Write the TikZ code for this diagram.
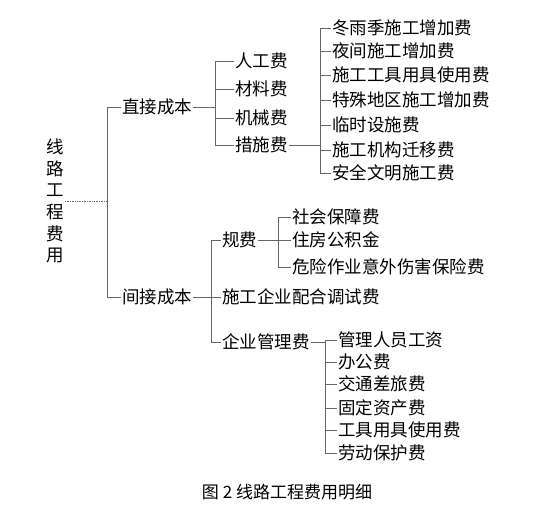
\documentclass[tikz,border=0pt]{standalone}
\usepackage{fontspec}
\setmainfont{Noto Sans CJK SC}
\usetikzlibrary{positioning}

\begin{document}
\begin{tikzpicture}[x=1pt, y=-1pt,
    item/.style={anchor=west, inner sep=1pt, font=\fontsize{17.5}{19}\selectfont},
    link/.style={draw=black!60, line width=0.7pt}]
        \useasboundingbox (0,0) rectangle (544,510);

        \node[font=\fontsize{17.5}{21.6}\selectfont, align=center, inner sep=1pt] (root) at (55,201)
            {线\\路\\工\\程\\费\\用};

        \node[item] (zj) at (121,107) {直接成本};
        \node[item] (jj) at (121,297) {间接成本};

        \node[item] (rg) at (234,61)  {人工费};
        \node[item] (cl) at (234,89)  {材料费};
        \node[item] (jx) at (234,118) {机械费};
        \node[item] (cs) at (234,145) {措施费};

        \node[item] (cs1) at (331,28)  {冬雨季施工增加费};
        \node[item] (cs2) at (331,51)  {夜间施工增加费};
        \node[item] (cs3) at (331,75)  {施工工具用具使用费};
        \node[item] (cs4) at (331,100) {特殊地区施工增加费};
        \node[item] (cs5) at (331,125) {临时设施费};
        \node[item] (cs6) at (331,150) {施工机构迁移费};
        \node[item] (cs7) at (331,173) {安全文明施工费};

        \node[item] (gf) at (221,240) {规费};
        \node[item] (pt) at (221,297) {施工企业配合调试费};
        \node[item] (qy) at (221,342) {企业管理费};

        \node[item] (gf1) at (291,217) {社会保障费};
        \node[item] (gf2) at (291,240) {住房公积金};
        \node[item] (gf3) at (291,267) {危险作业意外伤害保险费};

        \node[item] (qy1) at (337,340) {管理人员工资};
        \node[item] (qy2) at (337,362) {办公费};
        \node[item] (qy3) at (337,384) {交通差旅费};
        \node[item] (qy4) at (337,408) {固定资产费};
        \node[item] (qy5) at (337,430) {工具用具使用费};
        \node[item] (qy6) at (337,453) {劳动保护费};

        \node[font=\fontsize{17}{19}\selectfont, inner sep=1pt] (cap) at (287,492) {图 2 线路工程费用明细};

        % bus points
        \coordinate (b0) at (107,201);
        \coordinate (b1) at (215,107);
        \coordinate (b2) at (320,145);
        \coordinate (b3) at (211,297);
        \coordinate (b4) at (278,240);
        \coordinate (b5) at (325,342);

        \draw[link, densely dotted] (root.east) -- (b0);
        \draw[link] (zj.west) -| (b0) (jj.west) -| (b0);

        \draw[link] (zj.east) -- (b1);
        \foreach \n in {rg, cl, jx, cs}
            \draw[link] (\n.west) -| (b1);

        \draw[link] (cs.east) -- (b2);
        \foreach \n in {cs1, cs2, cs3, cs4, cs5, cs6, cs7}
            \draw[link] (\n.west) -| (b2);

        \draw[link] (jj.east) -- (b3);
        \foreach \n in {gf, pt, qy}
            \draw[link] (\n.west) -| (b3);

        \draw[link] (gf.east) -- (b4);
        \foreach \n in {gf1, gf2, gf3}
            \draw[link] (\n.west) -| (b4);

        \draw[link] (qy.east) -- (b5);
        \foreach \n in {qy1, qy2, qy3, qy4, qy5, qy6}
            \draw[link] (\n.west) -| (b5);
    \end{tikzpicture}
\end{document}
